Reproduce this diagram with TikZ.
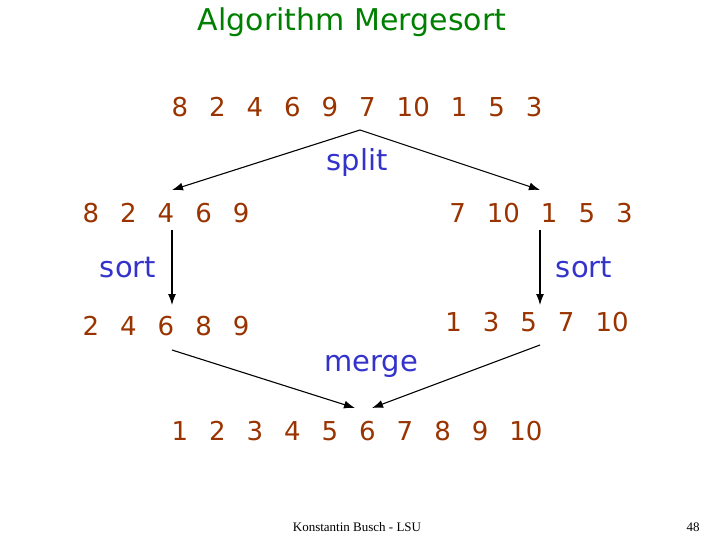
\documentclass[tikz,border=0pt]{standalone}
\usetikzlibrary{arrows.meta}
\usepackage{fontspec}
\setmainfont{DejaVu Sans}
\newfontfamily\footfont{Liberation Serif}
\definecolor{ttl}{RGB}{0,128,0}
\definecolor{num}{RGB}{153,51,0}
\definecolor{lab}{RGB}{51,51,204}
\newcommand{\gp}{\hspace{21pt}}
\begin{document}
\begin{tikzpicture}[x=1pt,y=-1pt,
  numtxt/.style={text=num,font=\fontsize{26}{30}\selectfont,inner sep=0pt},
  labtxt/.style={text=lab,font=\fontsize{29}{32}\selectfont,inner sep=0pt},
  arr/.style={-{Latex[length=11pt,width=8pt]},line width=1.1pt}]
\useasboundingbox (0,0) rectangle (720,540);
\node[text=ttl,font=\fontsize{30}{34}\selectfont,inner sep=0pt] (title) at (352,22) {Algorithm Mergesort};
\node[numtxt] (all) at (357,107) {8\gp2\gp4\gp6\gp9\gp7\gp10\gp1\gp5\gp3};
\node[labtxt] (split) at (357,162) {split};
\node[numtxt] (left) at (166,213) {8\gp2\gp4\gp6\gp9};
\node[numtxt] (right) at (541,213) {7\gp10\gp1\gp5\gp3};
\node[labtxt] (sortl) at (128,268) {sort};
\node[labtxt] (sortr) at (584,268) {sort};
\node[numtxt] (lsorted) at (166,326) {2\gp4\gp6\gp8\gp9};
\node[numtxt] (rsorted) at (537,322) {1\gp3\gp5\gp7\gp10};
\node[labtxt] (merge) at (371,366) {merge};
\node[numtxt] (result) at (357,431) {1\gp2\gp3\gp4\gp5\gp6\gp7\gp8\gp9\gp10};
\node[font=\footfont\fontsize{13}{15}\selectfont,inner sep=0pt] (foot) at (357,527) {Konstantin Busch - LSU};
\node[font=\footfont\fontsize{13}{15}\selectfont,inner sep=0pt] (page) at (693,527) {48};
\coordinate (top) at (360,130);
\coordinate (lt) at (172,190);
\coordinate (rt) at (540,190);
\coordinate (ls) at (172,230);
\coordinate (le) at (172,305);
\coordinate (rs) at (540,230);
\coordinate (re) at (540,305);
\coordinate (lm) at (172,350);
\coordinate (rm) at (540,345);
\coordinate (ml) at (355,408);
\coordinate (mr) at (372,408);
\draw[arr] (top) -- (lt);
\draw[arr] (top) -- (rt);
\draw[arr] (ls) -- (le);
\draw[arr] (rs) -- (re);
\draw[arr] (lm) -- (ml);
\draw[arr] (rm) -- (mr);
\end{tikzpicture}
\end{document}
